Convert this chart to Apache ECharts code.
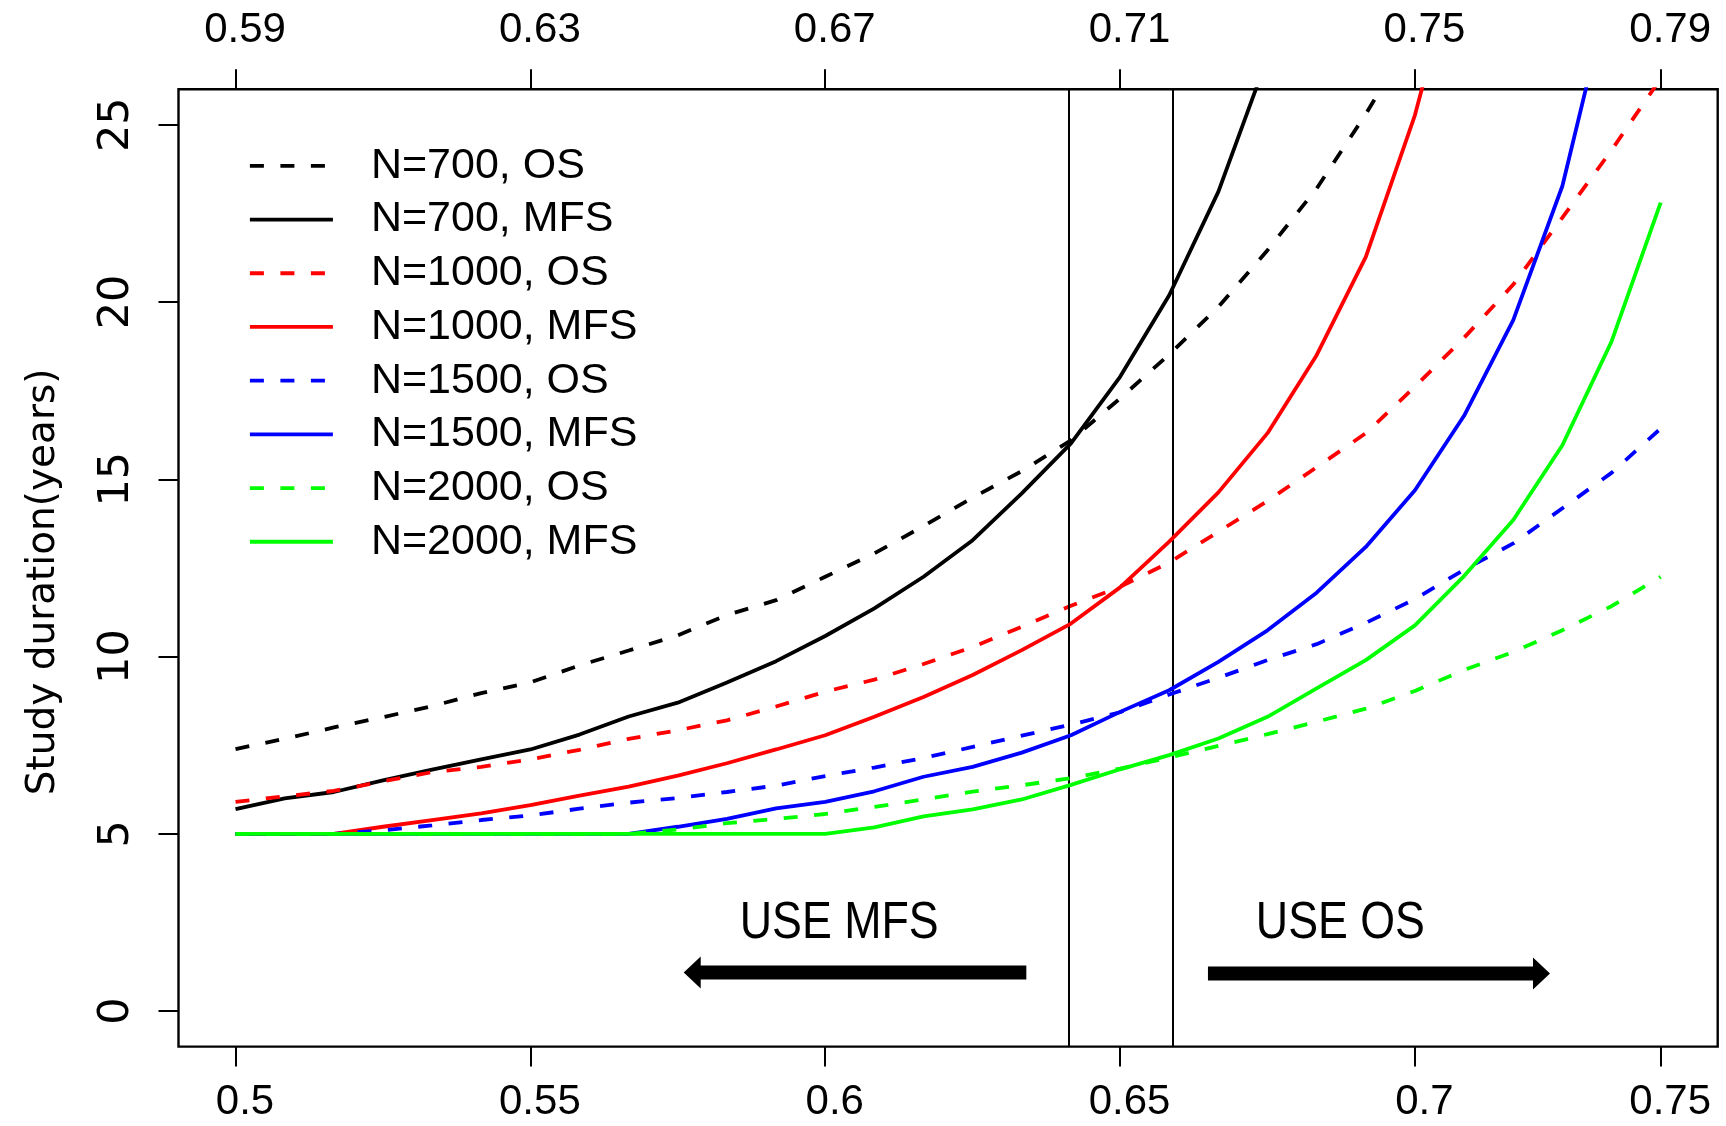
<!DOCTYPE html>
<html>
<head>
<meta charset="utf-8">
<script src="https://cdn.jsdelivr.net/npm/echarts@6/dist/echarts.min.js"></script>
<style>
  html, body { margin: 0; padding: 0; background: #ffffff; }
  #chart { width: 1726px; height: 1126px; }
</style>
</head>
<body>
<div id="chart"></div>
<script>
// Effect size grid (bottom axis scale) shared by every curve
const xPos = [0.5, 0.50833, 0.51667, 0.525, 0.53333, 0.54167, 0.55, 0.55833, 0.56667, 0.575,
              0.58333, 0.59167, 0.6, 0.60833, 0.61667, 0.625, 0.63333, 0.64167, 0.65, 0.65833,
              0.66667, 0.675, 0.68333, 0.69167, 0.7, 0.70833, 0.71667, 0.725, 0.73333, 0.74167];

// Study duration in years for each design (values past the top are clipped by the plot box)
const n700OS   = [7.39, 7.68, 8.00, 8.29, 8.60, 8.97, 9.27, 9.75, 10.17, 10.60, 11.17, 11.59, 12.25, 12.91, 13.68,
                  14.48, 15.23, 16.10, 17.28, 18.52, 19.86, 21.46, 23.20, 25.3, 27.6];
const n700MFS  = [5.70, 6.00, 6.18, 6.51, 6.81, 7.10, 7.38, 7.80, 8.31, 8.70, 9.27, 9.87, 10.58, 11.36, 12.25,
                  13.28, 14.60, 16.01, 17.89, 20.19, 23.11, 26.9];
const n1000OS  = [5.90, 6.06, 6.21, 6.48, 6.74, 6.89, 7.10, 7.37, 7.68, 7.92, 8.20, 8.59, 9.01, 9.35, 9.79,
                  10.27, 10.84, 11.43, 11.97, 12.65, 13.52, 14.39, 15.34, 16.3, 17.61, 18.99, 20.49, 22.38, 24.28, 26.3];
const n1000MFS = [5.0, 5.0, 5.0, 5.2, 5.39, 5.58, 5.81, 6.08, 6.33, 6.64, 6.99, 7.38, 7.78, 8.30, 8.86,
                  9.48, 10.18, 10.93, 11.95, 13.24, 14.63, 16.3, 18.5, 21.27, 25.27, 30.5];
const n1500OS  = [5.0, 5.0, 5.0, 5.1, 5.24, 5.39, 5.52, 5.71, 5.88, 6.01, 6.18, 6.36, 6.63, 6.87, 7.14,
                  7.45, 7.77, 8.08, 8.43, 8.93, 9.40, 9.90, 10.35, 10.95, 11.62, 12.45, 13.19, 14.18, 15.18, 16.43];
const n1500MFS = [5.0, 5.0, 5.0, 5.0, 5.0, 5.0, 5.0, 5.0, 5.0, 5.2, 5.42, 5.72, 5.90, 6.20, 6.61,
                  6.89, 7.29, 7.78, 8.44, 9.05, 9.85, 10.74, 11.8, 13.09, 14.69, 16.79, 19.49, 23.27, 29.0];
const n2000OS  = [5.0, 5.0, 5.0, 5.0, 5.0, 5.0, 5.0, 5.0, 5.0, 5.12, 5.30, 5.42, 5.56, 5.76, 5.97,
                  6.19, 6.37, 6.57, 6.84, 7.15, 7.48, 7.81, 8.16, 8.53, 9.03, 9.62, 10.13, 10.74, 11.42, 12.25];
const n2000MFS = [5.0, 5.0, 5.0, 5.0, 5.0, 5.0, 5.0, 5.0, 5.0, 5.0, 5.0, 5.0, 5.0, 5.18, 5.49,
                  5.69, 5.97, 6.38, 6.82, 7.22, 7.69, 8.30, 9.1, 9.9, 10.88, 12.27, 13.85, 15.96, 18.88, 22.80];

// Axis ticks: bottom and top scales share tick positions
const xTickPos = [0.5, 0.55, 0.6, 0.65, 0.7, 0.74167];
const bottomLabels = ['0.5', '0.55', '0.6', '0.65', '0.7', '0.75'];
const topLabels = ['0.59', '0.63', '0.67', '0.71', '0.75', '0.79'];
const yTickPos = [0, 5, 10, 15, 20, 25];

// Break-even effect sizes where the MFS and OS designs swap
const breakEven = [0.64131, 0.65895];

const seriesDefs = [
  { name: 'N=700, OS',   data: n700OS,   color: '#000000', dashed: true },
  { name: 'N=700, MFS',  data: n700MFS,  color: '#000000', dashed: false },
  { name: 'N=1000, OS',  data: n1000OS,  color: '#ff0000', dashed: true },
  { name: 'N=1000, MFS', data: n1000MFS, color: '#ff0000', dashed: false },
  { name: 'N=1500, OS',  data: n1500OS,  color: '#0000ff', dashed: true },
  { name: 'N=1500, MFS', data: n1500MFS, color: '#0000ff', dashed: false },
  { name: 'N=2000, OS',  data: n2000OS,  color: '#00ff00', dashed: true },
  { name: 'N=2000, MFS', data: n2000MFS, color: '#00ff00', dashed: false }
];

function labelFor(value, labels) {
  let best = 0, dist = Infinity;
  xTickPos.forEach((p, i) => {
    const d = Math.abs(p - value);
    if (d < dist) { dist = d; best = i; }
  });
  return labels[best];
}

const X_MIN = 0.49033, X_MAX = 0.75134;
const tickFont = '"Liberation Sans", Arial, sans-serif';
const yFont = '"DejaVu Sans", Verdana, sans-serif';
const LINE_W = 3.8;

function xAxisDef(position, labels, margin) {
  return {
    type: 'value',
    position: position,
    min: X_MIN,
    max: X_MAX,
    splitLine: { show: false },
    axisLine: { show: false, onZero: false },
    axisTick: {
      show: true, inside: false, length: 20,
      customValues: xTickPos,
      lineStyle: { color: '#000', width: 2 }
    },
    axisLabel: {
      customValues: xTickPos,
      formatter: v => labelFor(v, labels),
      color: '#000', fontSize: 42, fontFamily: tickFont, margin: margin,
      padding: [0, 0, 0, 19]
    }
  };
}

const series = seriesDefs.map((s, k) => {
  const item = {
    name: s.name,
    type: 'line',
    xAxisIndex: 0,
    yAxisIndex: 0,
    data: s.data.map((v, i) => [xPos[i], v]),
    showSymbol: false,
    symbol: 'none',
    clip: true,
    silent: true,
    lineStyle: {
      color: s.color,
      width: LINE_W,
      type: s.dashed ? [14, 16.5] : 'solid',
      cap: 'butt'
    },
    itemStyle: { color: s.color },
    z: 2 + k
  };
  if (k === 0) {
    item.markLine = {
      silent: true,
      precision: 6,
      symbol: ['none', 'none'],
      label: { show: false },
      lineStyle: { color: '#000', width: 2, type: 'solid' },
      data: breakEven.map(x => ({ xAxis: x }))
    };
  }
  return item;
});

const chart = echarts.init(document.getElementById('chart'), null, { renderer: 'canvas' });

chart.setOption({
  animation: false,
  backgroundColor: '#ffffff',
  grid: {
    show: true,
    left: 178.5, top: 89.2, width: 1539.2, height: 957.4,
    borderColor: '#000', borderWidth: 2.4,
    backgroundColor: 'transparent'
  },
  xAxis: [
    xAxisDef('bottom', bottomLabels, 35),
    xAxisDef('top', topLabels, 38)
  ],
  yAxis: {
    type: 'value',
    min: -1, max: 26,
    splitLine: { show: false },
    axisLine: { show: false, onZero: false },
    axisTick: {
      show: true, inside: false, length: 20,
      customValues: yTickPos,
      lineStyle: { color: '#000', width: 2 }
    },
    axisLabel: {
      customValues: yTickPos,
      rotate: 90,
      color: '#000', fontSize: 43, fontFamily: yFont, margin: 40
    },
    name: 'Study duration(years)',
    nameLocation: 'middle',
    nameGap: 115,
    nameTextStyle: { color: '#000', fontSize: 39, fontFamily: yFont, padding: [0, 28, 0, 0] }
  },
  legend: {
    orient: 'vertical',
    left: 248, top: 139,
    padding: 0,
    itemWidth: 83, itemHeight: 14, itemGap: 0,
    selectedMode: false,
    lineStyle: { width: LINE_W },
    itemStyle: { opacity: 0 },
    textStyle: {
      color: '#000', fontSize: 43, fontFamily: tickFont,
      lineHeight: 53.7, padding: [0, 0, 0, 33]
    },
    data: seriesDefs.map(s => s.name)
  },
  series: series
});

// Decision annotations below the curves, positioned in data coordinates
function px(x, y) { return chart.convertToPixel({ xAxisIndex: 0, yAxisIndex: 0 }, [x, y]); }

function arrowPoints(tailX, tipX, y) {
  const tail = px(tailX, y), tip = px(tipX, y);
  const dir = tip[0] > tail[0] ? 1 : -1;
  const half = 7, headLen = 17, headHalf = 16;
  const baseX = tip[0] - dir * headLen;
  const cy = tip[1];
  return [
    [tail[0], cy - half], [baseX, cy - half], [baseX, cy - headHalf],
    [tip[0], cy], [baseX, cy + headHalf], [baseX, cy + half], [tail[0], cy + half]
  ];
}

const notes = [
  { text: 'USE MFS', x: 0.60237, y: 2.46 },
  { text: 'USE OS',  x: 0.68735, y: 2.46 }
];

chart.setOption({
  graphic: [
    { type: 'polygon', silent: true, shape: { points: arrowPoints(0.6341, 0.5760, 1.09) }, style: { fill: '#000' } },
    { type: 'polygon', silent: true, shape: { points: arrowPoints(0.6649, 0.7229, 1.06) }, style: { fill: '#000' } }
  ].concat(notes.map(n => {
    const p = px(n.x, n.y);
    return {
      type: 'text', silent: true, x: p[0], y: p[1], scaleX: 0.86,
      style: {
        text: n.text, x: 0, y: 0, align: 'center', verticalAlign: 'middle',
        fontSize: 52, fontFamily: tickFont, fill: '#000'
      }
    };
  }))
});
</script>
</body>
</html>
